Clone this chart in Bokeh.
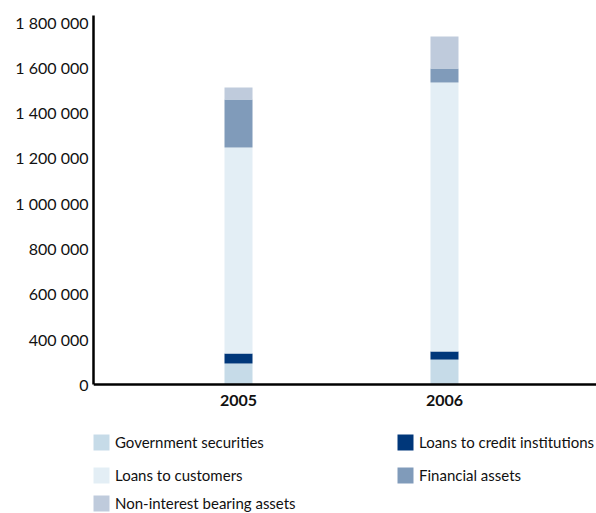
import numpy as np
from bokeh.plotting import figure
from bokeh.models import Range1d, FixedTicker, Legend, LegendItem, ColumnDataSource
from bokeh.embed import file_html
from bokeh.resources import INLINE

# ---------------- data ----------------
years = [2005, 2006]
government_securities = [186000, 220000]
loans_to_credit_institutions = [88000, 72000]
loans_to_customers = [972000, 1241000]
financial_assets = [212000, 62000]
non_interest_bearing_assets = [53000, 141000]

series_names = ["Government securities", "Loans to credit institutions",
                "Loans to customers", "Financial assets",
                "Non-interest bearing assets"]
series_values = [government_securities, loans_to_credit_institutions,
                 loans_to_customers, financial_assets,
                 non_interest_bearing_assets]
series_colors = ["#c6dbe8", "#00377a", "#e3eef5", "#809bba", "#bfcbdc"]

y_tick_values = [0, 400000, 600000, 800000, 1000000, 1200000, 1400000,
                 1600000, 1800000]
y_tick_labels = ["0", "400 000", "600 000", "800 000", "1 000 000",
                 "1 200 000", "1 400 000", "1 600 000", "1 800 000"]

# broken value axis: the 0 - 400 000 span is drawn as a single grid step
break_in = [0, 400000, 1800000]
break_out = [0, 200000, 1600000]


def to_axis(v):
    return np.interp(np.asarray(v, dtype=float), break_in, break_out)


FONT = "Lato"

# layout (pixels): plot area top 15, value zero at 384, canvas bottom 513
Y_TOP = 1629000
Y_BOTTOM = -Y_TOP * (513 - 384) / (384 - 15)

p = figure(width=596, height=513, output_backend="svg", toolbar_location=None,
           x_range=Range1d(2004.296, 2006.738),
           y_range=Range1d(Y_BOTTOM, Y_TOP),
           min_border_left=93, min_border_right=0, min_border_top=15,
           min_border_bottom=0)
p.outline_line_color = None
p.xgrid.visible = False
p.ygrid.visible = False
p.background_fill_color = "white"
p.border_fill_color = "white"

cum = np.zeros(len(years))
renderers = []
for name, vals, col in zip(series_names, series_values, series_colors):
    bottom = cum.copy()
    cum = cum + np.asarray(vals, dtype=float)
    src = ColumnDataSource(dict(x=years, bottom=to_axis(bottom), top=to_axis(cum)))
    r = p.vbar(x="x", width=0.136, bottom="bottom", top="top", source=src,
               fill_color=col, line_color=None)
    renderers.append(r)

# value axis
tick_pos = [int(round(t)) for t in to_axis(y_tick_values)]
p.yaxis.ticker = FixedTicker(ticks=tick_pos)
p.yaxis.major_label_overrides = {tp: lab for tp, lab in zip(tick_pos, y_tick_labels)}
p.yaxis.bounds = (0, Y_TOP)
p.yaxis.axis_line_width = 2.5
p.yaxis.axis_line_color = "black"
p.yaxis.major_tick_line_color = None
p.yaxis.minor_tick_line_color = None
p.yaxis.major_tick_out = 0
p.yaxis.major_label_standoff = 5
p.yaxis.major_label_text_font = FONT
p.yaxis.major_label_text_font_size = "16px"
p.yaxis.major_label_text_color = "#111111"

# category axis, drawn at value zero
p.xaxis.fixed_location = 0
p.xaxis.ticker = FixedTicker(ticks=years)
p.xaxis.axis_line_width = 2.5
p.xaxis.axis_line_color = "black"
p.xaxis.major_tick_line_color = None
p.xaxis.minor_tick_line_color = None
p.xaxis.major_tick_out = 0
p.xaxis.major_label_standoff = 10
p.xaxis.major_label_text_font = FONT
p.xaxis.major_label_text_font_style = "bold"
p.xaxis.major_label_text_font_size = "16px"
p.xaxis.major_label_text_color = "#111111"

# legend entries: (x from plot-area left, y up from canvas bottom)
legend_spots = [(-2, 61), (302, 61), (-2, 28), (302, 28), (-2, 0)]
for r, name, spot in zip(renderers, series_names, legend_spots):
    lg = Legend(items=[LegendItem(label=name, renderers=[r])], location=spot,
                padding=0, margin=0, border_line_color=None,
                background_fill_alpha=0, glyph_width=20, glyph_height=20,
                label_height=20, label_standoff=4,
                label_text_font=FONT, label_text_font_size="15px",
                label_text_color="#111111")
    p.add_layout(lg, "center")

open("out.html", "w").write(file_html(p, INLINE))
